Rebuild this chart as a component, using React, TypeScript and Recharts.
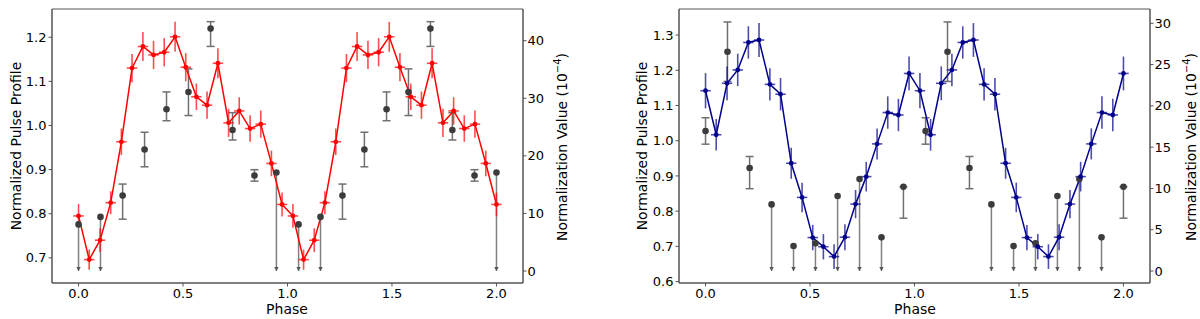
import React from 'react'
import { ComposedChart, Line, Scatter, XAxis, YAxis, ErrorBar, ReferenceArea } from 'recharts'

// Pulse profiles: 20 bins repeated over two cycles (phase 0..2)
const PHASES = [
  0, 0.051, 0.103, 0.154, 0.205, 0.256, 0.308, 0.359, 0.41, 0.462,
  0.513, 0.564, 0.615, 0.667, 0.718, 0.769, 0.821, 0.872, 0.923, 0.974,
  1.026, 1.077, 1.128, 1.179, 1.231, 1.282, 1.333, 1.385, 1.436, 1.487,
  1.538, 1.59, 1.641, 1.692, 1.744, 1.795, 1.846, 1.897, 1.949, 2.0,
]
const BIN_HALF_WIDTH = 0.025

const RED_PROFILE = [
  0.795, 0.696, 0.74, 0.825, 0.963, 1.13, 1.179, 1.16, 1.166, 1.201,
  1.132, 1.065, 1.046, 1.141, 1.006, 1.033, 0.993, 1.003, 0.914, 0.821,
  0.795, 0.696, 0.74, 0.825, 0.963, 1.13, 1.179, 1.16, 1.166, 1.201,
  1.132, 1.065, 1.046, 1.141, 1.006, 1.033, 0.993, 1.003, 0.914, 0.821,
]
const RED_ERR = [
  0.027, 0.023, 0.027, 0.026, 0.03, 0.032, 0.033, 0.032, 0.032, 0.034,
  0.032, 0.03, 0.031, 0.034, 0.032, 0.031, 0.03, 0.031, 0.029, 0.027,
  0.027, 0.023, 0.027, 0.026, 0.03, 0.032, 0.033, 0.032, 0.032, 0.034,
  0.032, 0.03, 0.031, 0.034, 0.032, 0.031, 0.03, 0.031, 0.029, 0.027,
]
const BLUE_PROFILE = [
  1.142, 1.017, 1.163, 1.201, 1.279, 1.286, 1.16, 1.132, 0.936, 0.839,
  0.725, 0.699, 0.671, 0.726, 0.82, 0.898, 0.991, 1.08, 1.073, 1.191,
  1.142, 1.017, 1.163, 1.201, 1.279, 1.286, 1.16, 1.132, 0.936, 0.839,
  0.725, 0.699, 0.671, 0.726, 0.82, 0.898, 0.991, 1.08, 1.073, 1.191,
]
const BLUE_ERR = [
  0.05, 0.045, 0.048, 0.046, 0.046, 0.048, 0.046, 0.046, 0.044, 0.042,
  0.036, 0.036, 0.035, 0.037, 0.04, 0.042, 0.044, 0.046, 0.046, 0.048,
  0.05, 0.045, 0.048, 0.046, 0.046, 0.048, 0.046, 0.046, 0.044, 0.042,
  0.036, 0.036, 0.035, 0.037, 0.04, 0.042, 0.044, 0.046, 0.046, 0.048,
]

// Normalization values (1e-4), 10 bins repeated
const NORM_PHASES = [
  0, 0.105, 0.211, 0.316, 0.421, 0.526, 0.632, 0.737, 0.842, 0.947,
  1.053, 1.158, 1.263, 1.368, 1.474, 1.579, 1.684, 1.789, 1.895, 2.0,
]
const RED_NORM = [8.1, 9.4, 13.1, 21.1, 28.1, 31.1, 42.1, 24.5, 16.6, 17.1, 8.1, 9.4, 13.1, 21.1, 28.1, 31.1, 42.1, 24.5, 16.6, 17.1]
const RED_NORM_LO = [0, 0, 4.1, 3.0, 2.0, 4.1, 3.1, 1.75, 1.0, 0, 0, 0, 4.1, 3.0, 2.0, 4.1, 3.1, 1.75, 1.0, 0]
const RED_NORM_HI = [0, 0, 2.0, 3.0, 3.0, 4.0, 1.2, 3.0, 1.0, 0, 0, 0, 2.0, 3.0, 3.0, 4.0, 1.2, 3.0, 1.0, 0]
const RED_NORM_UL = [1, 1, 0, 0, 0, 0, 0, 0, 0, 1, 1, 1, 0, 0, 0, 0, 0, 0, 0, 1]

const BLUE_NORM = [16.96, 26.56, 12.47, 8.07, 3.03, 3.35, 9.08, 11.14, 4.08, 10.2, 16.96, 26.56, 12.47, 8.07, 3.03, 3.35, 9.08, 11.14, 4.08, 10.2]
const BLUE_NORM_LO = [1.6, 3.6, 2.5, 0, 0, 0, 0, 0, 0, 3.8, 1.6, 3.6, 2.5, 0, 0, 0, 0, 0, 0, 3.8]
const BLUE_NORM_HI = [1.6, 3.6, 1.4, 0, 0, 0, 0, 0, 0, 0, 1.6, 3.6, 1.4, 0, 0, 0, 0, 0, 0, 0]
const BLUE_NORM_UL = [0, 0, 0, 1, 1, 1, 1, 1, 1, 0, 0, 0, 0, 1, 1, 1, 1, 1, 1, 0]

const PHASE_TICKS = [0, 0.5, 1, 1.5, 2]
const LEFT_TICKS_A = [0.7, 0.8, 0.9, 1.0, 1.1, 1.2]
const RIGHT_TICKS_A = [0, 10, 20, 30, 40]
const LEFT_TICKS_B = [0.6, 0.7, 0.8, 0.9, 1.0, 1.1, 1.2, 1.3]
const RIGHT_TICKS_B = [0, 5, 10, 15, 20, 25, 30]

const FONT = '"DejaVu Sans", sans-serif'
const FRAME = '#555'
const X_DOMAIN: [number, number] = [-0.127, 2.127]

function profileRows(vals: number[], errs: number[]) {
  return PHASES.map((x, i) => ({ x, y: vals[i], ey: errs[i], ex: BIN_HALF_WIDTH }))
}

function normRows(vals: number[], lo: number[], hi: number[], ul: number[]) {
  const rows = NORM_PHASES.map((x, i) => ({
    x,
    y: vals[i],
    err: ul[i] ? [vals[i], 0] : [lo[i], hi[i]],
    ul: !!ul[i],
  }))
  return {
    measured: rows.filter((r) => !r.ul),
    limits: rows.filter((r) => r.ul),
    arrows: rows.filter((r) => r.ul).map((r) => ({ x: r.x, y: 0 })),
  }
}

const tickStyle = { fontSize: 13, fill: '#000', fontFamily: FONT }

function Title({ x, y, rotate, children }: { x: number; y: number; rotate?: boolean; children: React.ReactNode }) {
  return (
    <div
      style={{
        position: 'absolute',
        left: x,
        top: y,
        transform: `translate(-50%, -50%)${rotate ? ' rotate(-90deg)' : ''}`,
        whiteSpace: 'nowrap',
        fontFamily: FONT,
        fontSize: 14,
        color: '#000',
        lineHeight: 1,
      }}
    >
      {children}
    </div>
  )
}

function NormTitle() {
  return (
    <>
      Normalization Value (10
      <sup style={{ fontSize: 10, verticalAlign: 'baseline', position: 'relative', top: -6 }}>−4</sup>)
    </>
  )
}

function Panel({
  left,
  profile,
  norm,
  color,
  leftDomain,
  rightDomain,
  leftTicks,
  rightTicks,
  leftWidth,
  rightWidth,
}: {
  left: number
  profile: ReturnType<typeof profileRows>
  norm: ReturnType<typeof normRows>
  color: string
  leftDomain: [number, number]
  rightDomain: [number, number]
  leftTicks: number[]
  rightTicks: number[]
  leftWidth: number
  rightWidth: number
}) {
  return (
    <div style={{ position: 'absolute', left, top: 0 }}>
      <ComposedChart width={600} height={319} margin={{ top: 9, right: 0, bottom: 0, left: 0 }}>
        <XAxis
          dataKey="x"
          type="number"
          domain={X_DOMAIN}
          allowDataOverflow
          ticks={PHASE_TICKS}
          tickFormatter={(v: number) => v.toFixed(1)}
          tick={tickStyle}
          tickSize={3.5}
          tickMargin={2}
          height={36}
          axisLine={{ stroke: FRAME }}
          tickLine={{ stroke: FRAME }}
        />
        <YAxis
          yAxisId="l"
          type="number"
          domain={leftDomain}
          allowDataOverflow
          ticks={leftTicks}
          tickFormatter={(v: number) => v.toFixed(1)}
          tick={tickStyle}
          tickSize={3.5}
          tickMargin={2}
          width={leftWidth}
          axisLine={{ stroke: FRAME }}
          tickLine={{ stroke: FRAME }}
        />
        <YAxis
          yAxisId="r"
          orientation="right"
          type="number"
          domain={rightDomain}
          allowDataOverflow
          ticks={rightTicks}
          tick={tickStyle}
          tickSize={3.5}
          tickMargin={1}
          width={rightWidth}
          axisLine={{ stroke: FRAME }}
          tickLine={{ stroke: FRAME }}
        />
        <ReferenceArea
          yAxisId="l"
          x1={X_DOMAIN[0]}
          x2={X_DOMAIN[1]}
          y1={leftDomain[0]}
          y2={leftDomain[1]}
          fill="none"
          stroke={FRAME}
          strokeWidth={1}
          ifOverflow="visible"
        />
        <Scatter
          yAxisId="r"
          data={norm.limits}
          dataKey="y"
          isAnimationActive={false}
          shape={(p: any) => <circle cx={p.cx} cy={p.cy} r={3.3} fill="#3c3c3c" />}
        >
          <ErrorBar dataKey="err" direction="y" width={0} stroke="#808080" strokeWidth={1.5} />
        </Scatter>
        <Scatter
          yAxisId="r"
          data={norm.arrows}
          dataKey="y"
          isAnimationActive={false}
          shape={(p: any) => (
            <path
              d={`M${p.cx - 2.2},${p.cy - 4} L${p.cx},${p.cy} L${p.cx + 2.2},${p.cy - 4} Z`}
              fill="#555"
            />
          )}
        />
        <Scatter
          yAxisId="r"
          data={norm.measured}
          dataKey="y"
          isAnimationActive={false}
          shape={(p: any) => <circle cx={p.cx} cy={p.cy} r={3.3} fill="#3c3c3c" />}
        >
          <ErrorBar dataKey="err" direction="y" width={4} stroke="#707070" strokeWidth={1.5} />
        </Scatter>
        <Line
          yAxisId="l"
          data={profile}
          dataKey="y"
          stroke={color}
          strokeWidth={1.5}
          dot={false}
          activeDot={false}
          isAnimationActive={false}
        />
        <Scatter
          yAxisId="l"
          data={profile}
          dataKey="y"
          isAnimationActive={false}
          shape={(p: any) => <circle cx={p.cx} cy={p.cy} r={2.4} fill={color} />}
        >
          <ErrorBar dataKey="ey" direction="y" width={0} stroke={color} strokeOpacity={0.7} strokeWidth={1.6} />
          <ErrorBar dataKey="ex" direction="x" width={0} stroke={color} strokeOpacity={0.7} strokeWidth={1.6} />
        </Scatter>
      </ComposedChart>
    </div>
  )
}

export default function App() {
  const redProfile = profileRows(RED_PROFILE, RED_ERR)
  const blueProfile = profileRows(BLUE_PROFILE, BLUE_ERR)
  const redNorm = normRows(RED_NORM, RED_NORM_LO, RED_NORM_HI, RED_NORM_UL)
  const blueNorm = normRows(BLUE_NORM, BLUE_NORM_LO, BLUE_NORM_HI, BLUE_NORM_UL)
  return (
    <div style={{ position: 'absolute', left: 0, top: 0, width: 1200, height: 319, background: '#fff' }}>
      <Panel
        left={0}
        profile={redProfile}
        norm={redNorm}
        color="#ff0000"
        leftDomain={[0.643, 1.264]}
        rightDomain={[-2.08, 45.5]}
        leftTicks={LEFT_TICKS_A}
        rightTicks={RIGHT_TICKS_A}
        leftWidth={52}
        rightWidth={77}
      />
      <Panel
        left={600}
        profile={blueProfile}
        norm={blueNorm}
        color="#00008b"
        leftDomain={[0.596, 1.374]}
        rightDomain={[-1.45, 31.73]}
        leftTicks={LEFT_TICKS_B}
        rightTicks={RIGHT_TICKS_B}
        leftWidth={79}
        rightWidth={50}
      />
      <Title x={16} y={146} rotate>Normalized Pulse Profile</Title>
      <Title x={562} y={147} rotate><NormTitle /></Title>
      <Title x={287} y={309}>Phase</Title>
      <Title x={642} y={146} rotate>Normalized Pulse Profile</Title>
      <Title x={1191} y={147} rotate><NormTitle /></Title>
      <Title x={915} y={309}>Phase</Title>
    </div>
  )
}
